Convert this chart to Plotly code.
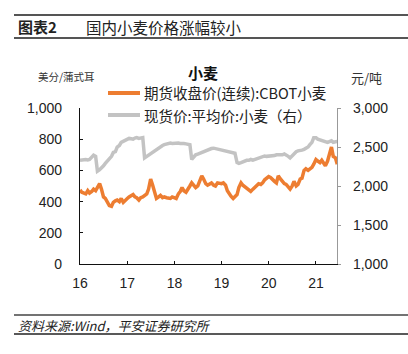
import pandas as pd
import plotly.graph_objects as go

dates = pd.date_range("2016-01-01", "2021-06-15", freq="SMS")

cbot_wheat = [
    475, 460, 455, 450, 470, 455, 465, 480, 470, 490, 515, 480, 430, 420, 400, 375, 370, 395, 405, 410, 400, 420, 395, 410,
    420, 430, 440, 445, 430, 425, 410, 425, 430, 440, 450, 480, 545, 510, 450, 420, 430, 440, 425, 430, 425, 420, 420, 430,
    425, 420, 450, 465, 490, 470, 460, 475, 500, 520, 500, 490, 500, 530, 565, 545, 515, 505, 510, 520, 505, 500, 520, 515,
    515, 520, 505, 470, 450, 435, 420, 430, 445, 490, 520, 505, 495, 490, 480, 465, 480, 490, 505, 515, 510, 520, 540, 550,
    560, 555, 545, 530, 520, 565, 545, 530, 515, 510, 495, 480, 500, 530, 500, 510, 545, 550, 600, 610, 600, 610, 620, 640,
    670, 660, 650, 665, 650, 630, 660, 710, 750, 690, 680, 640,
]
spot_wheat = [
    2330, 2335, 2330, 2340, 2335, 2340, 2370, 2395, 2380, 2190, 2210, 2230, 2260, 2290, 2320, 2340, 2380, 2430, 2440, 2500, 2520, 2560, 2570, 2590,
    2600, 2610, 2605, 2600, 2615, 2620, 2610, 2620, 2620, 2360, 2380, 2390, 2420, 2430, 2450, 2470, 2490, 2500, 2520, 2530, 2540, 2550, 2550, 2545,
    2550, 2555, 2550, 2545, 2550, 2545, 2540, 2530, 2530, 2340, 2380, 2400, 2410, 2420, 2430, 2440, 2450, 2460, 2470, 2480, 2485, 2480, 2475, 2470,
    2465, 2460, 2455, 2450, 2445, 2440, 2430, 2420, 2300, 2290, 2300, 2310, 2320, 2330, 2330, 2340, 2330, 2340, 2340, 2350, 2370, 2380, 2385, 2380,
    2380, 2390, 2385, 2390, 2400, 2400, 2395, 2400, 2410, 2400, 2380, 2360, 2390, 2420, 2440, 2450, 2450, 2460, 2470, 2480, 2500, 2530, 2560, 2620,
    2620, 2600, 2590, 2580, 2570, 2560, 2560, 2570, 2580, 2560, 2560, 2570,
]
x_tick_vals = ["2016-01-01", "2017-01-01", "2018-01-01", "2019-01-01", "2020-01-01", "2021-01-01"]
x_tick_text = ["16", "17", "18", "19", "20", "21"]
left_ticks = [0, 200, 400, 600, 800, 1000]
right_ticks = [1000, 1500, 2000, 2500, 3000]
name_cbot = "期货收盘价(连续):CBOT小麦"
name_spot = "现货价:平均价:小麦（右）"

ORANGE = "#ED7D31"
GRAY = "#C3C3C3"
FONT = "Liberation Sans, Arial, Noto Sans CJK SC, sans-serif"
CJK = "Noto Sans CJK SC, Liberation Sans, sans-serif"

W, H = 408, 354
L, R, T, B = 80, 337, 108, 264

def px(x):
    return (x - L) / (R - L)

def py(y):
    return (B - y) / (B - T)

fig = go.Figure()
fig.add_trace(go.Scatter(x=dates, y=spot_wheat, yaxis="y2", mode="lines",
                         line=dict(color=GRAY, width=3.5), name=name_spot, showlegend=False))
fig.add_trace(go.Scatter(x=dates, y=cbot_wheat, yaxis="y", mode="lines",
                         line=dict(color=ORANGE, width=3.5), name=name_cbot, showlegend=False))

fig.update_layout(
    width=W, height=H,
    margin=dict(l=L, r=W - R, t=T, b=H - B),
    paper_bgcolor="white", plot_bgcolor="white",
    font=dict(family=FONT, size=14, color="#222"),
    xaxis=dict(type="date", range=["2016-01-01", "2021-06-13"], tickvals=x_tick_vals, ticktext=x_tick_text,
               showgrid=False, zeroline=False, showline=True, linecolor="#111", linewidth=1.3,
               ticks="inside", ticklen=3, tickcolor="#111", ticklabelstandoff=6,
               tickfont=dict(size=14, color="#222")),
    yaxis=dict(range=[0, 1000], tickvals=left_ticks, tickformat=",d", showgrid=False, zeroline=False,
               showline=True, linecolor="#111", linewidth=1.3, ticks="inside", ticklen=3, tickcolor="#111",
               ticklabelstandoff=14, tickfont=dict(size=14, color="#222")),
    yaxis2=dict(range=[1000, 3000], tickvals=right_ticks, tickformat=",d", overlaying="y", side="right",
                showgrid=False, zeroline=False, showline=True, linecolor="#999", linewidth=1.3,
                ticks="outside", ticklen=3, tickcolor="#999", ticklabelstandoff=9,
                tickfont=dict(size=14, color="#222")),
    showlegend=False,
)

shapes = []
def hline(x0, x1, y, color, width):
    shapes.append(dict(type="line", xref="paper", yref="paper", x0=px(x0), x1=px(x1), y0=py(y), y1=py(y),
                       line=dict(color=color, width=width)))

hline(14, 408, 15, "#555", 2.2)
hline(14, 408, 38, "#555", 2.2)
hline(14, 408, 315, "#444", 1.5)
hline(14, 408, 334, "#222", 1.5)
hline(108, 140, 93, ORANGE, 4)
hline(108, 140, 115, GRAY, 4)
fig.update_layout(shapes=shapes)

def text(s, x, y, size, xanchor="left", bold=False, italic=False, color="#222", family=CJK):
    fig.add_annotation(text=("<b>%s</b>" % s) if bold else (("<i>%s</i>" % s) if italic else s),
                       xref="paper", yref="paper", x=px(x), y=py(y), xanchor=xanchor, yanchor="middle",
                       showarrow=False, font=dict(size=size, color=color, family=family))

text("图表2", 16, 26.5, 15, bold=True)
text("国内小麦价格涨幅较小", 84, 26.5, 15.5)
text("小麦", 203, 73, 15, xanchor="center", bold=True, color="#111")
text(name_cbot, 142, 93, 14.5)
text(name_spot, 142, 115, 14.5)
text("美分/蒲式耳", 66, 76, 10.5, xanchor="center", color="#333")
text("元/吨", 366, 77, 13, xanchor="center", color="#333")
text("资料来源:Wind，平安证券研究所", 16, 325, 13, italic=True)

fig.write_html("out.html")
